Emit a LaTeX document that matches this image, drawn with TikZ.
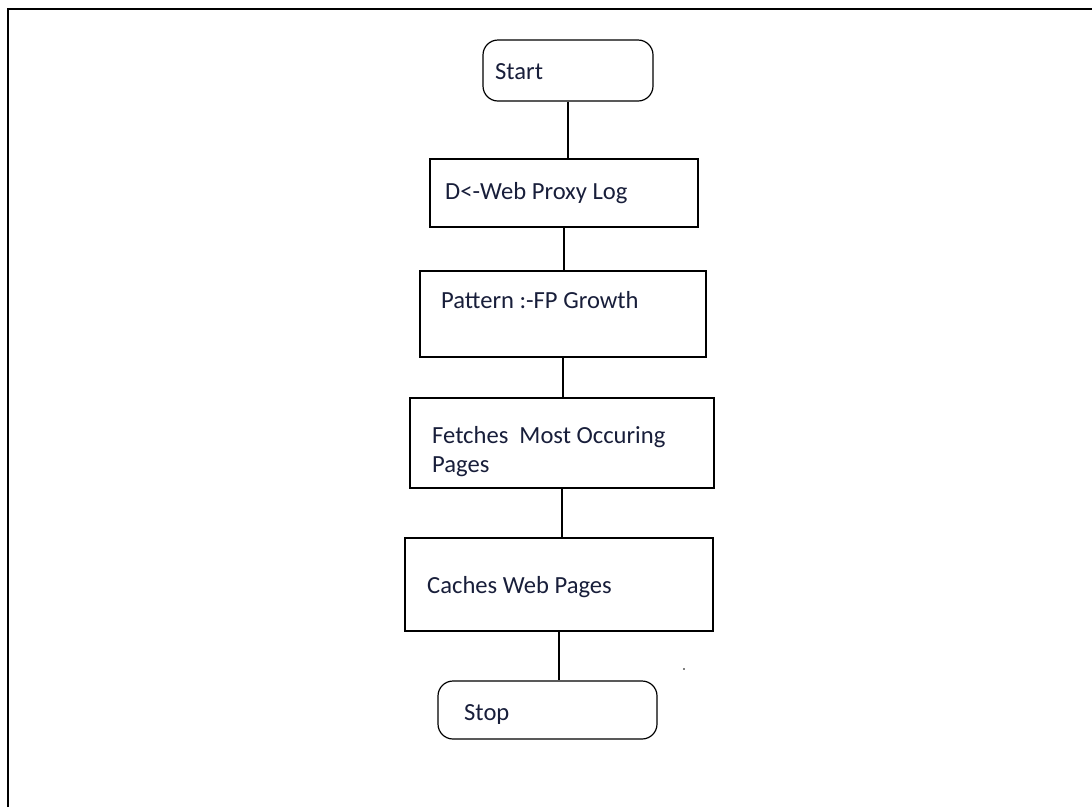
\documentclass[tikz,border=0pt]{standalone}
\usepackage{fontspec}
\newfontfamily\boxfont{Carlito}
\usetikzlibrary{positioning}
\definecolor{inkblue}{RGB}{24,30,58}

\begin{document}
\begin{tikzpicture}[x=1pt,y=-1pt,
  step box/.style={draw,line width=1.2pt,inner sep=0pt,minimum width=#1},
  terminal/.style={step box=#1,rounded corners=15pt},
  lbl/.style={inner sep=0pt,anchor=base west,text=inkblue,font=\boxfont\fontsize{24.6}{29}\selectfont,align=left},
  link/.style={line width=1.1pt}]

\useasboundingbox (0,0) rectangle (1092,807);
\draw [line width=2.4pt] (8,807) -- (8,9) -- (1092,9);

% boxes
\node [terminal=170pt,minimum height=61pt] (start) at (568,70.5) {};
\node [step box=268pt,minimum height=68pt] (dlog) at (564,193) {};
\node [step box=286pt,minimum height=86pt] (pattern) at (563,314) {};
\node [step box=304pt,minimum height=90pt] (fetch) at (562,443) {};
\node [step box=308pt,minimum height=93pt] (cache) at (559,584.5) {};
\node [terminal=219pt,minimum height=58pt] (stop) at (547.5,710) {};

% texts
\node [lbl] (startlbl) at (495,79) {Start};
\node [lbl] (dloglbl) at (445,199) {D<-Web Proxy Log};
\node [lbl] (patternlbl) at (441,308) {Pattern :-FP Growth};
\node [lbl] (fetchlbl) at (432,472) {Fetches\ \ Most Occuring\\Pages};
\node [lbl] (cachelbl) at (427,593) {Caches Web Pages};
\node [lbl] (stoplbl) at (464,720) {Stop};

% links
\draw [link] (start.south) -- (start.south |- dlog.north);
\draw [link] (dlog.south) -- (dlog.south |- pattern.north);
\draw [link] (pattern.south) -- (pattern.south |- fetch.north);
\draw [link] (fetch.south) -- (fetch.south |- cache.north);
\coordinate (cachedrop) at ([yshift=-24pt]cache.south);
\draw [line width=2.6pt] (cache.south) -- (cachedrop);
\draw [link] (cachedrop) -- (cache.south |- stop.north);

\fill (684,669) circle (0.9pt);

\end{tikzpicture}
\end{document}
